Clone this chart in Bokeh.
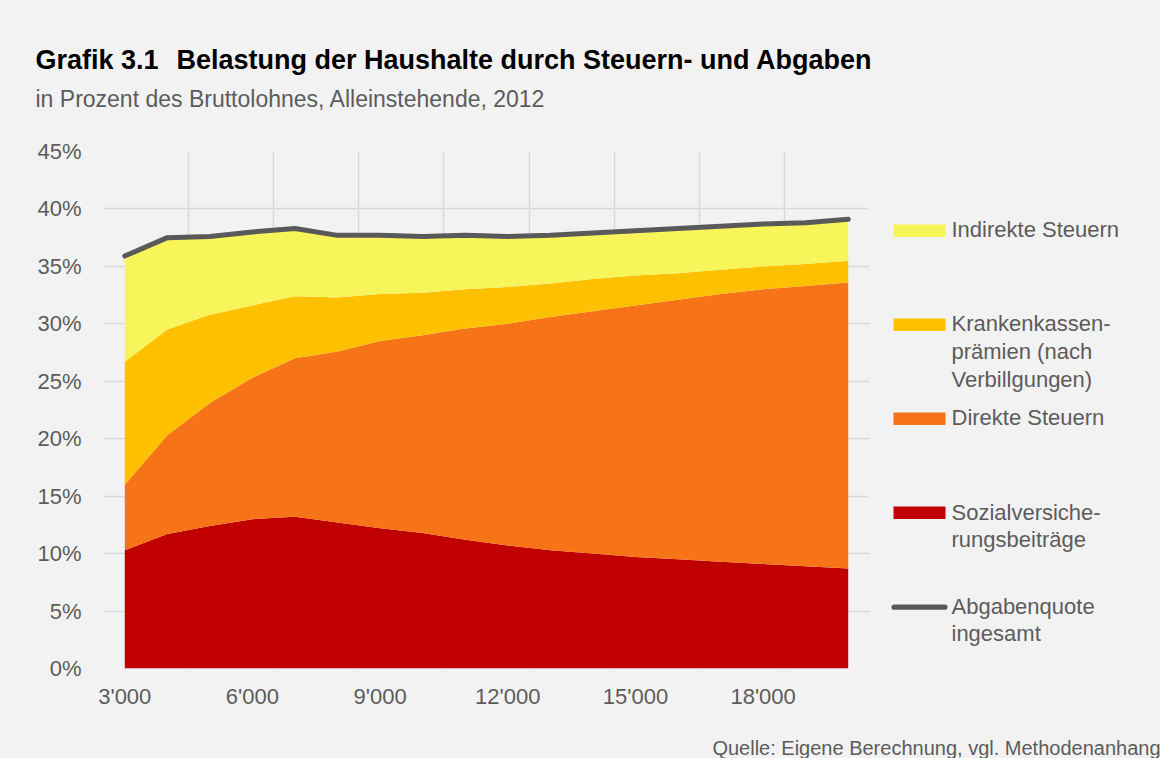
from bokeh.plotting import figure
from bokeh.layouts import column, row
from bokeh.models import ColumnDataSource, Range1d, FixedTicker, Label, BoxAnnotation
from bokeh.embed import file_html
from bokeh.resources import INLINE

# ---------------- data ----------------
einkommen = [3000, 4000, 5000, 6000, 7000, 8000, 9000, 10000, 11000, 12000,
             13000, 14000, 15000, 16000, 17000, 18000, 19000, 20000]
sozial = [10.3, 11.7, 12.4, 13.0, 13.2, 12.7, 12.2, 11.8, 11.2, 10.7,
          10.3, 10.0, 9.7, 9.5, 9.3, 9.1, 8.9, 8.7]
direkt = [5.7, 8.6, 10.7, 12.3, 13.8, 14.9, 16.3, 17.2, 18.4, 19.3,
          20.3, 21.1, 21.9, 22.6, 23.3, 23.9, 24.4, 24.9]
kranken = [10.7, 9.2, 7.7, 6.3, 5.4, 4.7, 4.1, 3.7, 3.4, 3.2,
           2.9, 2.8, 2.6, 2.3, 2.1, 2.0, 1.9, 1.9]
indirekt = [9.2, 8.0, 6.8, 6.4, 5.9, 5.4, 5.1, 4.9, 4.7, 4.4,
            4.2, 4.0, 3.9, 3.9, 3.8, 3.7, 3.6, 3.6]

x_ticks = [3000, 6000, 9000, 12000, 15000, 18000]
x_tick_labels = ["3'000", "6'000", "9'000", "12'000", "15'000", "18'000"]
x_grid = [2500, 4500, 6500, 8500, 10500, 12500, 14500, 16500, 18500, 20500]
y_ticks = [0, 5, 10, 15, 20, 25, 30, 35, 40, 45]
y_tick_labels = ["0%", "5%", "10%", "15%", "20%", "25%", "30%", "35%", "40%", "45%"]

title_number = "Grafik 3.1"
title_text = "Belastung der Haushalte durch Steuern- und Abgaben"
subtitle_text = "in Prozent des Bruttolohnes, Alleinstehende, 2012"
source_text = "Quelle: Eigene Berechnung, vgl. Methodenanhang"

series_names = ["Sozialversiche-\nrungsbeiträge", "Direkte Steuern",
                "Krankenkassen-\nprämien (nach\nVerbillgungen)", "Indirekte Steuern"]
colors = ["#c00000", "#f77318", "#ffc000", "#f8f55a"]
line_name = "Abgabenquote\ningesamt"
line_color = "#595959"

total = [round(a + b + c + d, 2) for a, b, c, d in zip(sozial, direkt, kranken, indirekt)]

# ---------------- layout constants (pixels of the whole layout) ----------------
FONT = "Liberation Sans"
TXT = "#5c5c5c"
BG = "#f2f2f2"
TOTAL_W, TOTAL_H = 1160, 758
TOP_H = 136
BL, BT, BB = 103, 15, 48
FRAME_W, FRAME_H = 766, 517
MAIN_W, MAIN_H = BL + FRAME_W, BT + FRAME_H + BB
LEG_W = TOTAL_W - MAIN_W
BOT_H = TOTAL_H - TOP_H - MAIN_H
XMIN, XMAX, YMIN, YMAX = 2500, 20500, 0, 45


def blank_fig(w, h, frame_h=None, top=0, bottom=0):
    fh = h if frame_h is None else frame_h
    f = figure(width=w, height=h, output_backend="svg", toolbar_location=None,
               x_range=Range1d(0, w), y_range=Range1d(0, fh),
               min_border_left=0, min_border_right=0, min_border_top=top,
               min_border_bottom=bottom)
    f.background_fill_color = BG
    f.border_fill_color = BG
    f.outline_line_color = None
    f.axis.visible = False
    f.grid.visible = False
    return f


def add_text(f, fx0, fy0, fh, txt, px, py, size, color=TXT, bold=False, align="left"):
    # px/py: layout pixels (py = vertical middle of the text); fx0/fy0: frame origin
    f.add_layout(Label(x=px - fx0, y=fh - (py - fy0), text=txt,
                       text_font=FONT, text_font_size=size,
                       text_font_style="bold" if bold else "normal",
                       text_color=color, text_align=align,
                       text_baseline="middle"))


def add_box(f, fx0, fy0, fh, x1, x2, y1, y2, col, radius=0):
    f.add_layout(BoxAnnotation(left=x1 - fx0, right=x2 - fx0,
                               top=fh - (y1 - fy0), bottom=fh - (y2 - fy0),
                               fill_color=col, fill_alpha=1.0, line_color=None,
                               border_radius=radius))


# ---------------- header ----------------
top = blank_fig(TOTAL_W, TOP_H)
add_text(top, 0, 0, TOP_H, title_number, 35, 59.5, "27px", color="#000000", bold=True)
add_text(top, 0, 0, TOP_H, title_text, 176, 59.5, "27px", color="#000000", bold=True)
add_text(top, 0, 0, TOP_H, subtitle_text, 35, 98, "23px")

# ---------------- main chart ----------------
p = figure(width=MAIN_W, height=MAIN_H, output_backend="svg", toolbar_location=None,
           x_range=Range1d(XMIN, XMAX), y_range=Range1d(YMIN, YMAX),
           min_border_left=BL, min_border_top=BT, min_border_right=0,
           min_border_bottom=BB)
p.background_fill_color = BG
p.border_fill_color = BG
p.outline_line_color = None

source = ColumnDataSource(dict(x=einkommen, sozial=sozial, direkt=direkt,
                               kranken=kranken, indirekt=indirekt, total=total))
p.varea_stack(stackers=["sozial", "direkt", "kranken", "indirekt"], x="x",
              color=colors, source=source)
p.line("x", "total", source=source, line_color=line_color, line_width=5,
       line_cap="round", line_join="round")

p.ygrid.ticker = FixedTicker(ticks=y_ticks)
p.xgrid.ticker = FixedTicker(ticks=x_grid)
for g in (p.xgrid, p.ygrid):
    g.grid_line_color = "#d9d9d9"
    g.grid_line_width = 1.5

p.xaxis.ticker = FixedTicker(ticks=x_ticks)
p.xaxis.major_label_overrides = dict(zip(x_ticks, x_tick_labels))
p.yaxis.ticker = FixedTicker(ticks=y_ticks)
p.yaxis.major_label_overrides = dict(zip(y_ticks, y_tick_labels))
for ax in (p.xaxis, p.yaxis):
    ax.axis_line_color = None
    ax.major_tick_line_color = None
    ax.minor_tick_line_color = None
    ax.major_tick_out = 0
    ax.major_tick_in = 0
    ax.major_label_text_font = FONT
    ax.major_label_text_font_size = "22px"
    ax.major_label_text_color = TXT
p.xaxis.major_label_standoff = 15
p.yaxis.major_label_standoff = 22

# ---------------- legend (its frame is aligned with the main frame) ----------------
LX0, LY0 = MAIN_W, TOP_H + BT
leg = blank_fig(LEG_W, MAIN_H, frame_h=FRAME_H, top=BT, bottom=BB)

legend_rows = [
    (series_names[3], colors[3], 230.3, [229.3]),
    (series_names[2], colors[2], 324.3, [323.0, 350.8, 378.5]),
    (series_names[1], colors[1], 418.3, [417.0]),
    (series_names[0], colors[0], 512.3, [511.7, 539.3]),
]
for name, col, cy, mids in legend_rows:
    add_box(leg, LX0, LY0, FRAME_H, 893, 945, cy - 6.3, cy + 6.3, col)
    for line_txt, my in zip(name.split("\n"), mids):
        add_text(leg, LX0, LY0, FRAME_H, line_txt, 951, my, "22px")

add_box(leg, LX0, LY0, FRAME_H, 891, 947, 606.7 - 2.6, 606.7 + 2.6, line_color, radius=3)
for line_txt, my in zip(line_name.split("\n"), [605.8, 633.3]):
    add_text(leg, LX0, LY0, FRAME_H, line_txt, 951, my, "22px")

# ---------------- footer ----------------
BX0, BY0 = 0, TOP_H + MAIN_H
bot = blank_fig(TOTAL_W, BOT_H)
add_text(bot, BX0, BY0, BOT_H, source_text, 1160, 747.5, "20px", align="right")

bg = {"background-color": BG}
layout = column(top, row(p, leg, spacing=0, styles=bg), bot, spacing=0, styles=bg)
open("out.html", "w").write(file_html(layout, INLINE))
